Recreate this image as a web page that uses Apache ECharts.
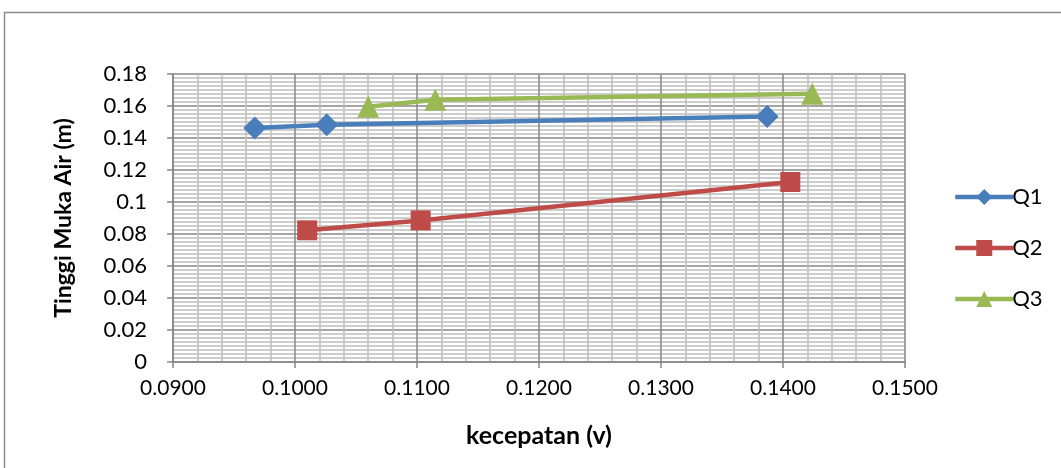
<!DOCTYPE html>
<html>
<head>
<meta charset="utf-8">
<style>
  html, body { margin: 0; padding: 0; background: #fff; }
  #chart { width: 1061px; height: 468px; }
</style>
<script src="https://cdn.jsdelivr.net/npm/echarts@6/dist/echarts.min.js"></script>
</head>
<body>
<div id="chart"></div>
<script>
// Flow velocity (v) against water surface height for three discharges
const seriesNames = ['Q1', 'Q2', 'Q3'];
const q1Velocity = [0.0967, 0.1026, 0.1387];
const q1Height   = [0.1463, 0.1483, 0.1535];
const q2Velocity = [0.1010, 0.1103, 0.1406];
const q2Height   = [0.0823, 0.0885, 0.1125];
const q3Velocity = [0.1060, 0.1115, 0.1424];
const q3Height   = [0.1596, 0.1639, 0.1677];

const xTitle = 'kecepatan (v)';
const yTitle = 'Tinggi Muka Air (m)';

const colors = ['#4a7ebb', '#be4b48', '#98b954'];
const symbols = ['diamond', 'rect', 'triangle'];
const symbolSizes = [23, 20, 22];

const pairs = (xs, ys) => xs.map((x, i) => [x, ys[i]]);
const seriesData = [
  pairs(q1Velocity, q1Height),
  pairs(q2Velocity, q2Height),
  pairs(q3Velocity, q3Height)
];

const FONT = 'Lato';
const chart = echarts.init(document.getElementById('chart'), null, { renderer: 'canvas' });

chart.setOption({
  animation: false,
  backgroundColor: '#fff',
  textStyle: { fontFamily: FONT, color: '#000' },
  graphic: [{
    type: 'rect',
    shape: { x: 4.5, y: 12.5, width: 1100, height: 500 },
    style: { fill: 'none', stroke: '#8c8c8c', lineWidth: 1.5 },
    silent: true,
    z: -1
  }],
  grid: { left: 173, right: 156, top: 74, bottom: 106, containLabel: false },
  legend: {
    orient: 'vertical',
    left: 948,
    top: 181,
    itemWidth: 58,
    itemHeight: 20,
    itemGap: 29,
    lineStyle: { width: 4.5 },
    textStyle: { fontFamily: FONT, fontSize: 22, color: '#000', padding: [0, 0, 0, -6] },
    data: seriesNames
  },
  xAxis: {
    type: 'value',
    min: 0.09,
    max: 0.15,
    interval: 0.01,
    name: xTitle,
    nameLocation: 'middle',
    nameGap: 61,
    nameTextStyle: { fontFamily: FONT, fontSize: 25, fontWeight: 'bold', color: '#000' },
    axisLine: { show: true, onZero: false, lineStyle: { color: '#868686', width: 1.5 } },
    axisTick: { show: true, length: 6, lineStyle: { color: '#868686', width: 1.5 } },
    axisLabel: {
      margin: 16, fontSize: 21, color: '#000', fontFamily: FONT,
      formatter: v => v.toFixed(4)
    },
    splitLine: { show: true, lineStyle: { color: '#868686', width: 1.5 } },
    minorTick: { show: false, splitNumber: 5 },
    minorSplitLine: { show: true, lineStyle: { color: '#bdbdbd', width: 1.5 } }
  },
  yAxis: {
    type: 'value',
    min: 0,
    max: 0.18,
    interval: 0.02,
    name: yTitle,
    nameLocation: 'middle',
    nameGap: 98,
    nameTextStyle: { fontFamily: FONT, fontSize: 23, fontWeight: 'bold', color: '#000' },
    axisLine: { show: true, onZero: false, lineStyle: { color: '#868686', width: 1.5 } },
    axisTick: { show: true, length: 6, lineStyle: { color: '#868686', width: 1.5 } },
    axisLabel: {
      margin: 26, fontSize: 22, color: '#000', fontFamily: FONT,
      formatter: v => (v === 0 ? '0' : String(parseFloat(v.toFixed(2))))
    },
    splitLine: { show: true, lineStyle: { color: '#868686', width: 1.5 } },
    minorTick: { show: false, splitNumber: 8 },
    minorSplitLine: { show: true, lineStyle: { color: '#bdbdbd', width: 1.5 } }
  },
  series: seriesNames.map((name, i) => ({
    name,
    type: 'line',
    data: seriesData[i],
    symbol: symbols[i],
    symbolSize: symbolSizes[i],
    showAllSymbol: true,
    lineStyle: { color: colors[i], width: 4.5 },
    itemStyle: { color: colors[i] },
    emphasis: { disabled: true },
    z: 3 + i
  }))
});
</script>
</body>
</html>
